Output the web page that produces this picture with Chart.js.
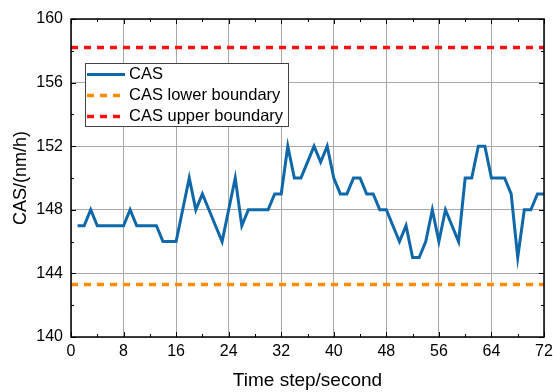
<!DOCTYPE html>
<html>
<head>
<meta charset="utf-8">
<script src="https://cdn.jsdelivr.net/npm/chart.js@4.4.1/dist/chart.umd.min.js"></script>
<style>
  html, body { margin: 0; padding: 0; background: #fff; }
  #wrap { width: 553px; height: 392px; }
</style>
</head>
<body>
<div id="wrap"><canvas id="myChart" width="553" height="392"></canvas></div>
<script>
// time steps 1..72 and CAS readings
let timeSteps = [];
for (let t = 1; t <= 72; t++) timeSteps.push(t);
let casValues = [
  147, 147, 148, 147, 147, 147, 147, 147, 148, 147,
  147, 147, 147, 146, 146, 146, 148, 150, 148, 149,
  148, 147, 146, 148, 150, 147, 148, 148, 148, 148,
  149, 149, 152, 150, 150, 151, 152, 151, 152, 150,
  149, 149, 150, 150, 149, 149, 148, 148, 147, 146,
  147, 145, 145, 146, 148, 146, 148, 147, 146, 150,
  150, 152, 152, 150, 150, 150, 149, 145, 148, 148,
  149, 149
];
let lowerBoundary = 143.3;
let upperBoundary = 158.2;
let xRange = [0, 72];
let yRange = [140, 160];
let seriesNames = ["CAS", "CAS lower boundary", "CAS upper boundary"];

const FONT = "'Liberation Sans', Arial, sans-serif";

// box + inward tick marks, like the original plot
const frameTicks = {
  id: 'frameTicks',
  afterDatasetsDraw(chart) {
    const { ctx, chartArea: a, scales: { x, y } } = chart;
    ctx.save();
    ctx.strokeStyle = '#000';
    ctx.lineWidth = 1;
    for (let v = xRange[0]; v <= xRange[1]; v += 4) {
      const px = Math.round(x.getPixelForValue(v)) + 0.5;
      const len = v % 8 === 0 ? 5 : 3;
      ctx.beginPath();
      ctx.moveTo(px, a.bottom); ctx.lineTo(px, a.bottom - len);
      ctx.moveTo(px, a.top); ctx.lineTo(px, a.top + len);
      ctx.stroke();
    }
    for (let v = yRange[0]; v <= yRange[1]; v += 2) {
      const py = Math.round(y.getPixelForValue(v)) + 0.5;
      const len = v % 4 === 0 ? 5 : 3;
      ctx.beginPath();
      ctx.moveTo(a.left, py); ctx.lineTo(a.left + len, py);
      ctx.moveTo(a.right, py); ctx.lineTo(a.right - len, py);
      ctx.stroke();
    }
    ctx.lineWidth = 1.5;
    ctx.strokeRect(a.left, a.top, a.right - a.left, a.bottom - a.top);
    ctx.restore();
  }
};

// legend box drawn inside the plot area
const innerLegend = {
  id: 'innerLegend',
  afterDraw(chart) {
    const { ctx } = chart;
    const bx = 85, by = 63, bw = 203, bh = 63;
    ctx.save();
    ctx.fillStyle = '#fff';
    ctx.fillRect(bx, by, bw, bh);
    ctx.strokeStyle = '#444';
    ctx.lineWidth = 1;
    ctx.strokeRect(bx + 0.5, by + 0.5, bw, bh);
    chart.data.datasets.forEach((ds, i) => {
      const ry = 74.5 + i * 21;
      ctx.strokeStyle = ds.borderColor;
      ctx.lineWidth = ds.borderWidth;
      ctx.setLineDash(ds.borderDash || []);
      ctx.beginPath();
      ctx.moveTo(87, ry);
      ctx.lineTo(125, ry);
      ctx.stroke();
      ctx.setLineDash([]);
      ctx.fillStyle = '#000';
      ctx.font = '16.5px ' + FONT;
      ctx.textBaseline = 'middle';
      ctx.fillText(ds.label, 129, ry);
    });
    ctx.restore();
  }
};

let ctx = document.getElementById("myChart").getContext('2d');
let myChart = new Chart(ctx, {
  type: 'line',
  data: {
    datasets: [{
      label: seriesNames[0],
      data: timeSteps.map((t, i) => ({ x: t, y: casValues[i] })),
      borderColor: '#0f68aa',
      borderWidth: 3,
      pointRadius: 0,
      tension: 0
    }, {
      label: seriesNames[1],
      data: [{ x: xRange[0], y: lowerBoundary }, { x: xRange[1], y: lowerBoundary }],
      borderColor: '#ff8c00',
      borderWidth: 3.5,
      borderDash: [7, 6],
      pointRadius: 0
    }, {
      label: seriesNames[2],
      data: [{ x: xRange[0], y: upperBoundary }, { x: xRange[1], y: upperBoundary }],
      borderColor: '#ff1010',
      borderWidth: 3.5,
      borderDash: [7, 6],
      pointRadius: 0
    }]
  },
  options: {
    responsive: false,
    animation: false,
    layout: { padding: { top: 19, right: 9, left: 0, bottom: 0 } },
    plugins: {
      legend: { display: false },
      tooltip: { enabled: false }
    },
    scales: {
      x: {
        type: 'linear',
        min: xRange[0],
        max: xRange[1],
        afterFit(scale) {
          scale.height = 55;
          scale.paddingLeft = 0;
          scale.paddingRight = 0;
        },
        ticks: { stepSize: 8, color: '#000', padding: 5, font: { family: FONT, size: 16 } },
        grid: { color: '#a8a8a8', drawTicks: false, lineWidth: 1 },
        border: { display: false },
        title: { display: true, text: 'Time step/second', color: '#000', padding: { top: 0, bottom: 0 }, font: { family: FONT, size: 19 } }
      },
      y: {
        min: yRange[0],
        max: yRange[1],
        afterFit(scale) {
          scale.width = 71;
          scale.paddingTop = 0;
          scale.paddingBottom = 0;
        },
        ticks: { stepSize: 4, color: '#000', padding: 8, font: { family: FONT, size: 16 } },
        grid: { color: '#a8a8a8', drawTicks: false, lineWidth: 1 },
        border: { display: false },
        title: { display: true, text: 'CAS/(nm/h)', color: '#000', padding: { top: 10, bottom: 0 }, font: { family: FONT, size: 18 } }
      }
    }
  },
  plugins: [frameTicks, innerLegend]
});
</script>
</body>
</html>
